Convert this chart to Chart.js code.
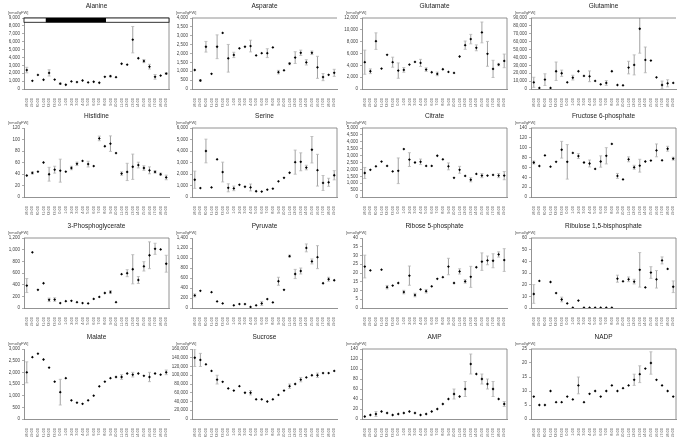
<!DOCTYPE html>
<html>
<head>
<meta charset="utf-8">
<script src="https://cdn.jsdelivr.net/npm/chart.js@4.4.1/dist/chart.umd.min.js"></script>
<style>
  body { margin: 0; background: #fff; width: 685px; height: 440px; overflow: hidden; position: relative; }
  canvas { position: absolute; }
</style>
</head>
<body>
<script>
// x 축 시간 라벨
const timeLabels = ['18:00','19:00','20:00','21:00','22:00','23:00','0:00','1:00','2:00','3:00','4:00','5:00','6:00',
  '7:00','8:00','9:00','10:00','11:00','12:00','13:00','14:00','15:00','16:00','17:00','18:00','19:00'];

// 명기(light) / 암기(dark) 구간 (x 인덱스 기준)
const darkStart = 3.4;
const darkEnd = 14.2;

const unitLabel = '[nmol/gFW]';

// 대사물질별 평균값, 오차
const alanine    = [2400,1040,1790,1170,2040,1200,670,540,960,875,1080,830,920,790,1540,1625,1500,3200,3080,6250,3900,3540,2830,1540,1700,1960];
const alanineErr = [350,0,0,0,400,0,100,0,0,0,0,0,0,0,0,100,0,0,0,1670,0,200,300,300,0,100];

const asparate    = [1070,480,2380,857,2380,3160,1730,1920,2290,2380,2420,1890,2020,2020,2340,950,1050,1430,1770,2040,1500,2040,1220,670,800,910];
const asparateErr = [0,50,300,0,670,0,780,150,0,0,330,0,0,250,0,100,0,60,330,150,150,100,620,200,0,200];

const glutamate    = [4530,3000,8090,3450,5770,4530,3110,3230,4130,4580,4410,3280,2830,2550,3340,2890,2720,5490,7410,8430,6960,9560,5940,3400,4130,4750];
const glutamateErr = [2040,400,1400,0,0,850,1300,400,0,0,600,300,0,300,0,0,0,0,700,800,500,1760,2100,1450,200,1150];

const glutamine    = [8500,1300,11900,1300,22500,19950,8500,14400,22500,16550,16100,10200,5940,7640,22500,5090,4670,27170,30560,76400,36900,36080,14860,5090,7220,7640];
const glutamineErr = [6400,0,7400,0,11700,4000,0,3000,0,0,6800,0,0,3000,0,0,0,8000,12700,31000,16300,0,0,5000,4500,0];

const histidine    = [37.4,41.9,44.1,60,39.6,47.5,45.8,44.1,50.4,57.7,62.8,57.2,53.8,101.9,88.3,92.8,76.4,40.7,43.6,52.6,55.5,50.4,46.4,43.6,39.6,34];
const histidineErr = [0,2,0,0,12,6,20,0,3,3,0,5,0,4,0,13.5,0,3,15,22,5,4,6,2,2,4];

const serine    = [1500,780,4000,830,3280,2170,800,750,1060,890,830,500,470,640,720,1360,1670,2110,3030,3060,2560,4110,2330,1220,1280,1890];
const serineErr = [750,0,1030,0,0,860,350,200,0,0,300,0,0,0,0,0,0,0,1050,780,200,1150,1380,650,350,400];

const citrate    = [1740,1970,2220,2570,2250,1850,1900,3470,2710,2500,2550,2250,2250,2990,2730,2220,1390,1970,1530,1250,1670,1550,1550,1600,1550,1550];
const citrateErr = [400,0,0,0,0,0,930,0,500,0,200,0,0,0,0,250,0,250,0,150,0,150,0,0,150,300];

const fructose6p    = [70,62.9,84.3,61.6,71.3,95.9,71.3,89.4,83,70,68,57,72,83.6,107.6,42.8,35.6,76.5,60.3,63.5,72,73.9,94.6,74.5,97.9,77.8];
const fructose6pErr = [3,0,0,0,0,17,35,0,5,0,7,0,11.5,16.5,0,5,0,5,4,13,0,0,13,0,5,3];

const pga    = [385,954,312,424,140,145,84,117,123,100,84,78,156,190,257,273,100,580,597,664,480,714,904,1015,1004,759];
const pgaErr = [120,0,0,0,30,30,0,0,0,0,0,0,0,0,0,25,0,0,60,250,60,80,230,95,0,145];

const pyruvate    = [251,343,null,317,132,92,null,53,79,79,20,53,92,178,112,535,363,1037,680,740,1202,931,1017,495,575,555];
const pyruvateErr = [30,0,0,0,0,0,0,0,0,0,0,0,40,0,0,80,0,20,92,60,79,50,230,0,40,0];

const ribose5p    = [23.7,21.5,null,21.9,11.9,12.8,14.3,9.1,18.5,7.4,10.6,9.6,12.4,16.7,17.6,23.7,14.3,20.9,15.2,17.8,23.3,26.5,27.2,27,30.6,27.4];
const ribose5pErr = [6.5,0,0,0,1,0,0,1,5.5,1,0,1,0,0,0,4.7,0,1.5,1,6,0,5,2.5,4,1.5,6.5];

const rubp    = [12,23.2,null,22.3,12.8,7.3,3.9,0.3,6.4,0.3,0.3,0.3,0.3,0.3,0.3,25.1,22.9,24.6,22.6,32.7,17.6,30.4,24.6,40.8,33.5,18.2];
const rubpErr = [8,0,0,0,0,2,0,0,0,0,0,0,0,0,0,3,0,2,2,14.8,0,5,7.5,3,0,5];

const malate    = [2000,2650,2800,2550,2200,1600,1150,1750,800,700,650,800,1000,1400,1600,1750,1800,1800,1950,1900,1950,1850,1800,1950,1900,2000];
const malateErr = [450,0,0,0,0,0,550,0,0,0,0,0,0,0,0,0,0,100,0,100,0,0,200,0,0,100];

const sucrose    = [140000,135000,125000,110000,90000,85000,70000,65000,75000,60000,60000,45000,45000,40000,45000,55000,65000,75000,80000,90000,95000,100000,100000,105000,105000,110000];
const sucroseErr = [20000,15000,0,0,10000,0,0,0,0,0,5000,0,0,0,0,0,0,5000,0,5000,0,0,5000,0,0,0];

const amp    = [5,8,10,15,12,8,10,12,15,12,8,10,15,20,30,40,50,45,60,110,90,80,70,60,40,30];
const ampErr = [0,0,5,0,0,0,0,0,0,0,0,0,0,0,0,0,10,0,15,20,0,10,10,15,0,5];

const nadp    = [8,5,5,10,6,6,8,7,12,6,9,10,8,10,12,10,11,12,14,16,18,20,14,12,10,8];
const nadpErr = [0,0,0,0,0,0,0,0,3,0,0,0,0,0,0,0,0,0,2,3,0,4,0,0,0,0];

// 패널 순서
const titles = ['Alanine','Asparate','Glutamate','Glutamine','Histidine','Serine','Citrate','Fructose 6-phosphate',
  '3-Phosphoglycerate','Pyruvate','Ribose 5-phosphate','Ribulose 1,5-bisphosphate','Malate','Sucrose','AMP','NADP'];
const series = [alanine,asparate,glutamate,glutamine,histidine,serine,citrate,fructose6p,pga,pyruvate,ribose5p,rubp,malate,sucrose,amp,nadp];
const errors = [alanineErr,asparateErr,glutamateErr,glutamineErr,histidineErr,serineErr,citrateErr,fructose6pErr,
  pgaErr,pyruvateErr,ribose5pErr,rubpErr,malateErr,sucroseErr,ampErr,nadpErr];
const yMax  = [9000,4000,12000,90000,120,6000,5000,140,1200,1400,40,60,3000,160000,140,25];
const yStep = [1000,500,2000,10000,20,1000,500,20,200,200,5,10,500,20000,20,5];
// 테두리: box = 사방, top = 윗선만, none = 축만
const frames = ['box','top','box','top','none','box','box','box','box','none','none','box','none','none','box','box'];

// 배치 (픽셀)
const colLeft = [24, 192, 362, 531];
const plotW = 147;
const rowTop = [18, 128, 238, 349];
const rowBottom = [89, 197, 308, 419];
const PAD_TOP = 18, X_AXIS_H = 18, Y_AXIS_W = 24;

// 오차 막대
const errorBars = {
  id: 'errorBars',
  beforeDatasetsDraw(chart, args, opts) {
    const { ctx, chartArea, scales: { x, y } } = chart;
    const vals = chart.data.datasets[0].data;
    const errs = opts.errors || [];
    ctx.save();
    ctx.beginPath();
    ctx.rect(chartArea.left, chartArea.top, chartArea.width, chartArea.height);
    ctx.clip();
    vals.forEach((v, i) => {
      const e = errs[i];
      if (v == null || !e) return;
      const px = x.getPixelForValue(i);
      const y1 = y.getPixelForValue(v + e);
      const y2 = y.getPixelForValue(Math.max(0, v - e));
      ctx.strokeStyle = '#8a8a8a';
      ctx.lineWidth = 0.8;
      ctx.beginPath();
      ctx.moveTo(px, y1); ctx.lineTo(px, y2);
      ctx.stroke();
      ctx.strokeStyle = '#b5b5b5';
      ctx.beginPath();
      ctx.moveTo(px - 1.5, y1); ctx.lineTo(px + 1.5, y1);
      ctx.moveTo(px - 1.5, y2); ctx.lineTo(px + 1.5, y2);
      ctx.stroke();
    });
    ctx.restore();
  }
};

// 제목, 단위, 테두리, 명암 막대
const panelDeco = {
  id: 'panelDeco',
  afterDraw(chart, args, opts) {
    const { ctx, chartArea, scales: { x, y } } = chart;
    ctx.save();
    ctx.fillStyle = '#222';
    ctx.font = '6.5px "Liberation Sans", Arial, sans-serif';
    ctx.textAlign = 'center';
    ctx.textBaseline = 'middle';
    ctx.fillText(opts.title, (chartArea.left + chartArea.right) / 2, chartArea.top - 12);
    ctx.font = '4px "Liberation Sans", Arial, sans-serif';
    ctx.textAlign = 'left';
    ctx.fillStyle = '#555';
    ctx.fillText(unitLabel, chartArea.left - 16, chartArea.top - 5);

    ctx.strokeStyle = '#777';
    ctx.lineWidth = 0.8;
    if (opts.frame === 'box' || opts.frame === 'top') {
      ctx.beginPath();
      ctx.moveTo(chartArea.left, chartArea.top);
      ctx.lineTo(chartArea.right, chartArea.top);
      if (opts.frame === 'box') ctx.lineTo(chartArea.right, chartArea.bottom);
      ctx.stroke();
    }
    if (opts.dayNight) {
      const top = chartArea.top;
      const h = y.getPixelForValue(yMax[0] * 0.94) - top;
      const step = x.getPixelForValue(1) - x.getPixelForValue(0);
      const xs = x.getPixelForValue(0) + step * darkStart;
      const xe = x.getPixelForValue(0) + step * darkEnd;
      ctx.fillStyle = '#fff';
      ctx.fillRect(chartArea.left, top, chartArea.width, h);
      ctx.fillStyle = '#000';
      ctx.fillRect(xs, top, xe - xs, h);
      ctx.strokeStyle = '#000';
      ctx.lineWidth = 0.8;
      ctx.strokeRect(chartArea.left, top, chartArea.width, h);
    }
    ctx.restore();
  }
};

titles.forEach((title, k) => {
  const col = k % 4, row = Math.floor(k / 4);
  const canvas = document.createElement('canvas');
  const plotH = rowBottom[row] - rowTop[row];
  const w = Y_AXIS_W + plotW + 2;
  const h = PAD_TOP + plotH + X_AXIS_H;
  canvas.width = w; canvas.height = h;
  canvas.style.left = (colLeft[col] - Y_AXIS_W) + 'px';
  canvas.style.top = (rowTop[row] - PAD_TOP) + 'px';
  canvas.style.width = w + 'px'; canvas.style.height = h + 'px';
  document.body.appendChild(canvas);

  new Chart(canvas.getContext('2d'), {
    type: 'line',
    data: {
      labels: timeLabels,
      datasets: [{
        data: series[k],
        showLine: false,
        pointStyle: 'rectRot',
        pointRadius: 1.4,
        pointBackgroundColor: '#000',
        pointBorderColor: '#000',
        pointBorderWidth: 0
      }]
    },
    options: {
      responsive: false,
      animation: false,
      devicePixelRatio: 1,
      layout: { padding: { top: PAD_TOP, right: 2, left: 0, bottom: 0 } },
      plugins: {
        legend: { display: false },
        tooltip: { enabled: false },
        title: { display: false },
        errorBars: { errors: errors[k] },
        panelDeco: { title: title, frame: frames[k], dayNight: k === 0 }
      },
      scales: {
        x: {
          offset: true,
          grid: { display: false },
          border: { color: '#777', width: 0.8 },
          ticks: {
            autoSkip: false, maxRotation: 90, minRotation: 90,
            font: { size: 4, family: '"Liberation Sans", Arial, sans-serif' },
            color: '#555', padding: 1
          },
          afterFit(s) { s.height = X_AXIS_H; }
        },
        y: {
          min: 0, max: yMax[k],
          grid: { display: true, drawOnChartArea: false, tickLength: 2, color: '#777', lineWidth: 0.6 },
          border: { color: '#777', width: 0.8 },
          ticks: {
            stepSize: yStep[k], autoSkip: false,
            font: { size: 4.5, family: '"Liberation Sans", Arial, sans-serif' },
            color: '#444', padding: 2,
            callback: v => v.toLocaleString('en-US')
          },
          afterFit(s) { s.width = Y_AXIS_W; }
        }
      }
    },
    plugins: [errorBars, panelDeco]
  });
});
</script>
</body>
</html>
